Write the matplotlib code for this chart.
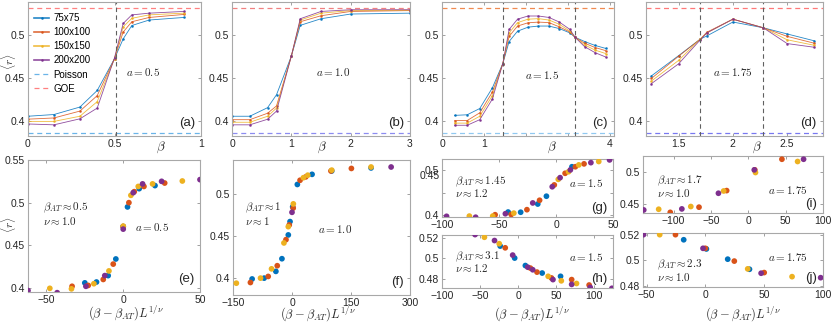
import matplotlib
matplotlib.use("Agg")
import matplotlib.pyplot as plt

plt.rcParams["font.family"] = ["Liberation Sans", "DejaVu Sans"]
plt.rcParams["mathtext.fontset"] = "cm"

sizes = ["75x75", "100x100", "150x150", "200x200"]
colors = ["#0072BD", "#D95319", "#EDB120", "#7E2F8E"]

# ---- top row: <r> vs beta ----
beta_a = [0, 0.15, 0.3, 0.4, 0.5, 0.55, 0.6, 0.7, 0.9]
r_a = [
    [0.405, 0.407, 0.4157, 0.435, 0.472, 0.495, 0.5106, 0.517, 0.520],
    [0.4016, 0.403, 0.411, 0.429, 0.472, 0.503, 0.515, 0.520, 0.5235],
    [0.399, 0.399, 0.405, 0.422, 0.472, 0.509, 0.519, 0.523, 0.525],
    [0.396, 0.395, 0.402, 0.4145, 0.473, 0.513, 0.523, 0.525, 0.527],
]

beta_b = [0, 0.3, 0.6, 0.75, 1.0, 1.15, 1.5, 2.0, 3.0]
r_b = [
    [0.405, 0.405, 0.415, 0.43, 0.475, 0.5108, 0.5185, 0.524, 0.525],
    [0.401, 0.401, 0.4085, 0.417, 0.475, 0.515, 0.522, 0.527, 0.528],
    [0.398, 0.398, 0.405, 0.4145, 0.475, 0.517, 0.525, 0.528, 0.5285],
    [0.395, 0.395, 0.4015, 0.411, 0.475, 0.5185, 0.527, 0.529, 0.529],
]

beta_c = [0.3, 0.6, 0.9, 1.2, 1.45, 1.6, 1.8, 2.05, 2.3, 2.55, 2.8, 3.05, 3.17, 3.4, 3.65, 3.9]
r_c = [
    [0.406, 0.4067, 0.414, 0.438, 0.4664, 0.492, 0.504, 0.5087, 0.510, 0.510, 0.507, 0.502, 0.497, 0.492, 0.4874, 0.484],
    [0.400, 0.400, 0.409, 0.433, 0.4664, 0.498, 0.510, 0.5138, 0.5146, 0.514, 0.509, 0.503, 0.497, 0.490, 0.485, 0.4814],
    [0.397, 0.397, 0.405, 0.429, 0.4664, 0.502, 0.514, 0.518, 0.5186, 0.517, 0.512, 0.504, 0.497, 0.488, 0.482, 0.478],
    [0.3945, 0.3945, 0.401, 0.425, 0.4664, 0.506, 0.518, 0.5217, 0.5217, 0.520, 0.5146, 0.506, 0.497, 0.486, 0.479, 0.474],
]

beta_d = [1.25, 1.5, 1.7, 1.76, 2.0, 2.28, 2.5, 2.75]
r_d = [
    [0.452, 0.4755, 0.4948, 0.4985, 0.5147, 0.508, 0.5008, 0.4928],
    [0.449, 0.4749, 0.4948, 0.5028, 0.518, 0.508, 0.498, 0.490],
    [0.446, 0.470, 0.4948, 0.502, 0.518, 0.508, 0.494, 0.4876],
    [0.443, 0.466, 0.494, 0.502, 0.518, 0.508, 0.4896, 0.4853],
]

poisson = 0.386
goe = 0.5307

# ---- bottom: scaling collapse ----
e_x = [[-25, -17.4, -9.8, -4.8, 0, 2.8, 10.4, 20.7],
       [-33.3, -22.8, -13, -6.5, 0, 3.7, 7.2, 13.5, 27],
       [-47.8, -33.7, -19.1, -9.3, 0, 5, 9.8, 19.1, 38.5],
       [-62, -43, -24.3, -12, 0, 6.5, 12.6, 25, 50]]
e_y = [[0.406, 0.407, 0.4145, 0.434, 0.472, 0.495, 0.5164, 0.520],
       [0.402, 0.403, 0.410, 0.428, 0.472, 0.500, 0.5129, 0.519, 0.523],
       [0.3996, 0.399, 0.405, 0.420, 0.4725, 0.5086, 0.519, 0.522, 0.5254],
       [0.397, 0.3945, 0.402, 0.4145, 0.469, 0.5117, 0.522, 0.525, 0.527]]

f_x = [[-101.4, -70.8, -41, -25.6, -9.4, -5, 1.7, 13.6, 51, 101, 201],
       [-105.7, -60.5, -37.5, -15.3, -7, 3, 20.5, 35, 99, 151],
       [-141.5, -80, -52, -20.5, -9.4, 3.4, 29, 40, 101, 201],
       [0, 252]]
f_y = [[0.399, 0.400, 0.408, 0.423, 0.4512, 0.467, 0.4845, 0.511, 0.523, 0.527, 0.5306],
       [0.3948, 0.402, 0.4147, 0.4456, 0.463, 0.483, 0.516, 0.520, 0.527, 0.530],
       [0.394, 0.400, 0.411, 0.4417, 0.461, 0.488, 0.519, 0.522, 0.528, 0.5317],
       [0.478, 0.5317]]

g_x = [[-42, -31, -16, -8.4, 14],
       [-53.4, -39.3, -25.5, -14.4, -1.5, 8, 17, 24.6],
       [-76, -55.5, -37, 2, 11, 20, 37.5],
       [-96, -70.5, -44.4, -20.4, -3.3, 3.6, 12.6, 30.6, 47]]
g_y = [[0.4074, 0.407, 0.425, 0.4422, 0.507],
       [0.4015, 0.402, 0.4126, 0.4333, 0.467, 0.4926, 0.507, 0.5133],
       [0.3985, 0.3985, 0.405, 0.4793, 0.496, 0.511, 0.5185],
       [0.398, 0.396, 0.4037, 0.4274, 0.463, 0.483, 0.500, 0.516, 0.522]]

h_x = [[-23.4, -4.4, 9.7, 31.8, 56],
       [-16.8, 16.3, 25, 44, 70.6, 93.6],
       [-44.2, -24.7, 39.7, 57, 77],
       [-56.5, -30.9, -7, 12.8, 19.4, 46, 70.6, 95, 123.6]]
h_y = [[0.5117, 0.500, 0.4927, 0.4854, 0.4822],
       [0.510, 0.4902, 0.4863, 0.4806, 0.479, 0.4737],
       [0.5203, 0.514, 0.4822, 0.4778, 0.4752],
       [0.5229, 0.5171, 0.5029, 0.4911, 0.4886, 0.479, 0.4743, 0.4714, 0.4705]]

i_x = [[],
       [-104.5, -66, -29, 8.7, 45],
       [-120, -77, -33, 9.6, 66],
       [-140, -89, -40, 8, 74]]
i_y = [[],
       [0.437, 0.445, 0.4706, 0.5026, 0.519],
       [0.4418, 0.446, 0.470, 0.4985, 0.5155],
       [0.4407, 0.4423, 0.4665, 0.5026, 0.519]]

j_x = [[-18.4, 0.9, 19, 37.5],
       [-25.4, 0, 24.6, 50],
       [-38.8, 36, 73.7],
       [-52.6, -2, 47.4, 98]]
j_y = [[0.516, 0.5088, 0.5008, 0.4929],
       [0.520, 0.5093, 0.4993, 0.4903],
       [0.520, 0.4932, 0.4871],
       [0.520, 0.5093, 0.4898, 0.4863]]

W, H = 831, 323
fig = plt.figure(figsize=(W / 100, H / 100), dpi=100)


def px_axes(l, t, r, b):
    ax = fig.add_axes([l / W, 1 - b / H, (r - l) / W, (b - t) / H])
    ax.tick_params(direction="in", top=True, right=True, length=2.5, width=0.6,
                   labelsize=7.5, labelcolor="#262626", color="#909090", pad=2)
    for s in ax.spines.values():
        s.set_color("#a8a8a8")
        s.set_linewidth(0.8)
    return ax


def ftext(x, y, s, **kw):
    kw.setdefault("fontsize", 8)
    kw.setdefault("color", "#262626")
    fig.text(x / W, 1 - y / H, s, **kw)


def panel_label(ax, s):
    ax.text(0.965, 0.05, s, transform=ax.transAxes, ha="right", va="bottom",
            fontsize=9.5, color="#262626")


# top row
top = [
    (px_axes(28, 2, 201, 136), beta_a, r_a, (0, 1), [0, 0.5, 1], ["0", "0.5", "1"],
     [0.51], "#6ab4e8", "#ff8080", "(a)"),
    (px_axes(232, 2, 410, 136), beta_b, r_b, (0, 3), [0, 1, 2, 3], ["0", "1", "2", "3"],
     [], "#8c8cf0", "#f08080", "(b)"),
    (px_axes(442, 2, 614, 136), beta_c, r_c, (0, 4.1), [0, 1, 2, 3, 4], ["0", "1", "", "", "4"],
     [1.45, 3.17], "#90c8f0", "#f08a50", "(c)"),
    (px_axes(646, 2, 823, 136), beta_d, r_d, (1.2, 2.83), [1.5, 2, 2.5], ["1.5", "2", "2.5"],
     [1.7, 2.28], "#7878f0", "#ff7878", "(d)"),
]
for ax, bx, ry, xl, xt, xtl, vls, pc, gc, lab in top:
    for k in range(4):
        ax.plot(bx, ry[k], color=colors[k], lw=0.6, marker=".", ms=1.8, alpha=0.85,
                label=sizes[k])
    ax.axhline(poisson, color=pc, lw=0.9, ls=(0, (4, 3)), label="Poisson")
    ax.axhline(goe, color=gc, lw=0.9, ls=(0, (4, 3)), label="GOE")
    for v in vls:
        ax.axvline(v, color="#606060", lw=0.8, ls=(0, (4, 3)))
    ax.set_xlim(*xl)
    ax.set_ylim(0.382, 0.538)
    ax.set_xticks(xt)
    ax.set_xticklabels(xtl)
    ax.set_yticks([0.4, 0.45, 0.5])
    ax.set_yticklabels(["0.4", "0.45", "0.5"])
    panel_label(ax, lab)

leg = top[0][0].legend(loc="upper left", bbox_to_anchor=(0.0, 0.96), frameon=False, fontsize=7,
                       handlelength=1.6, handletextpad=0.4, labelspacing=0.42, borderaxespad=0.2)
for line in leg.get_lines()[:4]:
    line.set_linewidth(1.2)

for x, y, s in [(143, 72, "$a = 0.5$"), (333, 72, "$a = 1.0$"),
                (542, 75, "$a = 1.5$"), (733, 72, "$a = 1.75$")]:
    ftext(x, y, s, ha="center", va="center", fontsize=8)
for x in [161, 322, 552, 757]:
    ftext(x, 147, r"$\beta$", ha="center", va="center", fontsize=9.5)
ftext(8, 62, r"$\langle r\rangle$", ha="center", va="center", rotation=90, fontsize=8)
ftext(8, 225, r"$\langle r\rangle$", ha="center", va="center", rotation=90, fontsize=8)

# bottom panels
bottom = [
    (px_axes(28, 160, 200, 292), e_x, e_y, (-62, 50), (0.3953, 0.55), [-50, 0, 50],
     [0.4, 0.45, 0.5, 0.55], "(e)"),
    (px_axes(233, 160, 410, 295), f_x, f_y, (-150, 300), (0.38, 0.540), [-150, 0, 150, 300],
     [0.4, 0.45, 0.5], "(f)"),
    (px_axes(442, 159, 613, 217), g_x, g_y, (-100, 50), (0.3965, 0.524), [-100, -50, 0, 50],
     [0.4, 0.45, 0.5], "(g)"),
    (px_axes(442, 235, 613, 288), h_x, h_y, (-100, 125), (0.4708, 0.5225), [-100, -50, 0, 50, 100],
     [0.48, 0.5, 0.52], "(h)"),
    (px_axes(643, 156, 823, 213), i_x, i_y, (-141, 100), (0.436, 0.524), [-100, -50, 0, 50, 100],
     [0.45, 0.5], "(i)"),
    (px_axes(643, 233, 823, 287), j_x, j_y, (-53, 100), (0.479, 0.5213), [-50, 0, 50, 100],
     [0.48, 0.5, 0.52], "(j)"),
]
for ax, xs, ys, xl, yl, xt, yt, lab in bottom:
    for k in range(4):
        ax.scatter(xs[k], ys[k], s=17, color=colors[k], edgecolors="none", zorder=3)
    ax.set_xlim(*xl)
    ax.set_ylim(*yl)
    ax.set_xticks(xt)
    ax.set_yticks(yt)
    ax.set_yticklabels([("%g" % v) for v in yt])
    panel_label(ax, lab)

# panel (g) has the 0.45 label squeezed under 0.5
gax = bottom[2][0]
gax.set_yticklabels(["0.4", "", "0.5"])
gax.text(-0.015, 0.486, "0.45", transform=gax.get_yaxis_transform(), ha="right",
         va="center", fontsize=7.5, color="#262626")

xlab = r"$(\beta-\beta_{AT})L^{1/\nu}$"
for x, y in [(126, 313), (318, 314), (532, 314), (743, 314)]:
    ftext(x, y, xlab, ha="center", va="center", fontsize=9)

notes = [
    (43, 208, r"$\beta_{AT}\approx 0.5$"), (43, 221, r"$\nu\approx 1.0$"),
    (135, 227, r"$a = 0.5$"),
    (245, 208, r"$\beta_{AT}\approx 1$"), (245, 221, r"$\nu\approx 1$"),
    (318, 229, r"$a = 1.0$"),
    (455, 182, r"$\beta_{AT}\approx 1.45$"), (455, 193, r"$\nu\approx 1.2$"),
    (569, 183, r"$a = 1.5$"),
    (455, 257, r"$\beta_{AT}\approx 3.1$"), (455, 268, r"$\nu\approx 1.2$"),
    (569, 257, r"$a = 1.5$"),
    (657, 181, r"$\beta_{AT}\approx 1.7$"), (657, 193, r"$\nu\approx 1.0$"),
    (768, 190, r"$a = 1.75$"),
    (657, 265, r"$\beta_{AT}\approx 2.3$"), (657, 277, r"$\nu\approx 1.0$"),
    (768, 257, r"$a = 1.75$"),
]
for x, y, s in notes:
    ftext(x, y, s, ha="left", va="center", fontsize=8)

fig.savefig("out.png", dpi=100)
